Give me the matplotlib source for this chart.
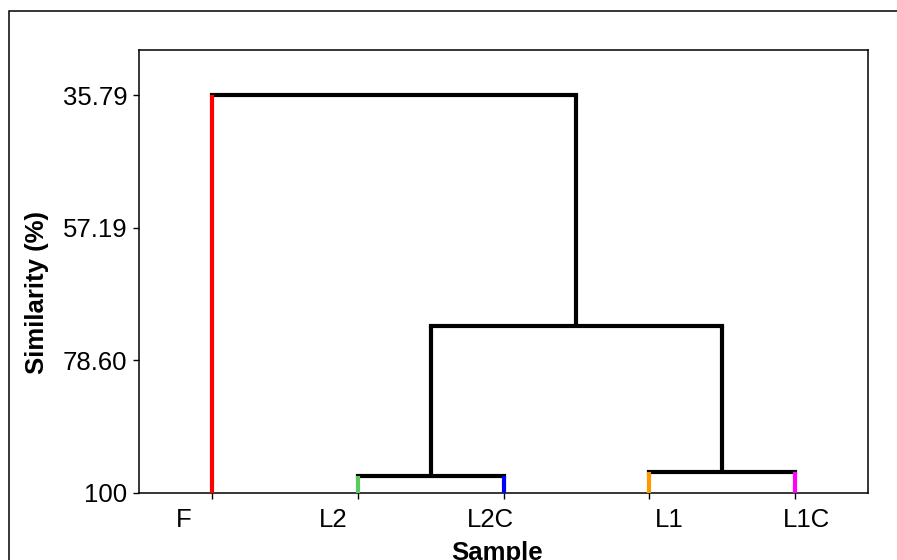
import matplotlib
matplotlib.use("Agg")
import matplotlib.pyplot as plt
import matplotlib.transforms as mtransforms
from matplotlib.patches import Rectangle

plt.rcParams["font.family"] = ["Liberation Sans", "DejaVu Sans"]

# =========================
# Data
# =========================
leaves = ["F", "L2", "L2C", "L1", "L1C"]
leaf_colors = ["#ff0000", "#5ccb5f", "#0000ff", "#ff9900", "#ff00ff"]

# merges: (left child, right child, similarity); children are leaf index or "c<k>" for cluster k
merge_left = [1, 3, "c0", 0]
merge_right = [2, 4, "c1", "c2"]
merge_sim = [97.26, 96.66, 73.06, 35.79]

ytick_vals = [35.79, 57.19, 78.60, 100]
ytick_labels = ["35.79", "57.19", "78.60", "100"]

# =========================
# Figure
# =========================
fig = plt.figure(figsize=(8.97, 5.6), dpi=100)
ax = fig.add_axes([139 / 897, 1 - 493 / 560, 729 / 897, 443 / 560])

# outer frame
fig.patches.append(Rectangle((9 / 897, -0.1), 1.2, 1 - 11 / 560 + 0.1,
                             transform=fig.transFigure, fill=False,
                             edgecolor="black", linewidth=1.1))

leaf_x = list(range(1, len(leaves) + 1))
node_x = {}
node_y = {}
for i, xv in enumerate(leaf_x):
    node_x[i] = xv
    node_y[i] = 100.0

lw = 3.0
for k, (a, b, s) in enumerate(zip(merge_left, merge_right, merge_sim)):
    xa, ya = node_x[a], node_y[a]
    xb, yb = node_x[b], node_y[b]
    ca = leaf_colors[a] if isinstance(a, int) else "black"
    cb = leaf_colors[b] if isinstance(b, int) else "black"
    ax.plot([xa, xa], [ya, s], color=ca, lw=lw, solid_capstyle="butt", clip_on=False, zorder=3)
    ax.plot([xb, xb], [yb, s], color=cb, lw=lw, solid_capstyle="butt", clip_on=False, zorder=3)
    ax.plot([xa, xb], [s, s], color="black", lw=lw, solid_capstyle="projecting", clip_on=False, zorder=2)
    node_x["c%d" % k] = (xa + xb) / 2
    node_y["c%d" % k] = s

ax.set_xlim(0.5, 5.5)
ax.set_ylim(100, 28.53)

ax.set_xticks(leaf_x)
ax.set_xticklabels(leaves, fontsize=18.5)
ax.set_yticks(ytick_vals)
ax.set_yticklabels(ytick_labels, fontsize=18.5)
ax.tick_params(axis="both", length=4, width=1, color="black", pad=4.5)
ax.tick_params(axis="x", pad=6.5)

# Minitab-style label offsets (pixels)
label_shift = [-28, -25, -13, 20, 11]
for lab, dx in zip(ax.get_xticklabels(), label_shift):
    lab.set_transform(lab.get_transform() +
                      mtransforms.ScaledTranslation(dx / 100, 0, fig.dpi_scale_trans))

for sp in ax.spines.values():
    sp.set_linewidth(1.1)

fig.text(37 / 897, 1 - 293 / 560, "Similarity (%)", rotation=90, fontsize=18.5,
         fontweight="bold", ha="center", va="center")
fig.text(497 / 897, 1 - 541 / 560, "Sample", fontsize=18.5,
         fontweight="bold", ha="center", va="top")

fig.savefig("out.png", dpi=100)
